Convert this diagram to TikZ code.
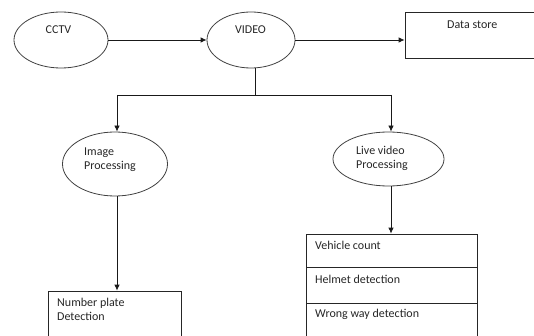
\documentclass[tikz,border=0pt]{standalone}
\usepackage{fontspec}
\setmainfont{Carlito}
\usetikzlibrary{shapes.geometric,arrows.meta}
\begin{document}
\begin{tikzpicture}[x=1pt,y=-1pt,
  ell/.style={draw=black!75,line width=0.8pt,ellipse,inner sep=0pt},
  box/.style={draw=black!85,line width=0.8pt,rectangle,inner sep=0pt},
  txt/.style={inner sep=0pt,font=\fontsize{12}{14}\selectfont,text=black!85},
  line/.style={draw=black!90,line width=0.8pt},
  arr/.style={line,-{Latex[length=6pt,width=5.5pt]}}]
\useasboundingbox (0,0) rectangle (534,336);
% shapes
\node[ell,minimum width=94pt,minimum height=56pt] (cctv) at (61,40) {};
\node[ell,minimum width=88pt,minimum height=56pt] (video) at (251,40) {};
\node[box,minimum width=135pt,minimum height=46pt] (ds) at (472.5,35) {};
\node[ell,minimum width=105pt,minimum height=64pt] (img) at (115,164) {};
\node[ell,minimum width=111pt,minimum height=54pt] (live) at (388.5,159) {};
\node[box,minimum width=133pt,minimum height=52pt] (np) at (114.5,317) {};
\node[box,minimum width=171pt,minimum height=33pt] (vc) at (391.5,250.5) {};
\node[box,minimum width=171pt,minimum height=36pt] (hd) at (391.5,285) {};
\node[box,minimum width=171pt,minimum height=37pt] (ww) at (391.5,321.5) {};
% texts
\node[txt,anchor=base] (cctvT) at (58.5,34) {CCTV};
\node[txt,anchor=base] (videoT) at (250.5,34) {VIDEO};
\node[txt,anchor=base west] (dsT) at (447,28.3) {Data store};
\node[txt,anchor=base west] (imgT1) at (84,156) {Image};
\node[txt,anchor=base west] (imgT2) at (84,170) {Processing};
\node[txt,anchor=base west] (liveT1) at (356,154.5) {Live video};
\node[txt,anchor=base west] (liveT2) at (356,168.5) {Processing};
\node[txt,anchor=base west] (npT1) at (57,306.7) {Number plate};
\node[txt,anchor=base west] (npT2) at (57,320.7) {Detection};
\node[txt,anchor=base west] (vcT) at (315,249.3) {Vehicle count};
\node[txt,anchor=base west] (hdT) at (315,283.7) {Helmet detection};
\node[txt,anchor=base west] (wwT) at (315,317.7) {Wrong way detection};
% connectors
\coordinate (j) at (255,95);
\coordinate (jl) at (117,95);
\coordinate (jr) at (391,95);
\draw[arr] (cctv) -- (video);
\draw[arr] (video.east) -- (video.east -| ds.west);
\draw[line] (video.south -| j) -- (j);
\draw[line] (jl) -- (jr);
\draw[arr] (jl) -- (jl |- img.north);
\draw[arr] (jr) -- (jr |- live.north);
\draw[arr] (img.south -| jl) -- (np.north -| jl);
\draw[arr] (live.south -| jr) -- (vc.north -| jr);
\end{tikzpicture}
\end{document}
